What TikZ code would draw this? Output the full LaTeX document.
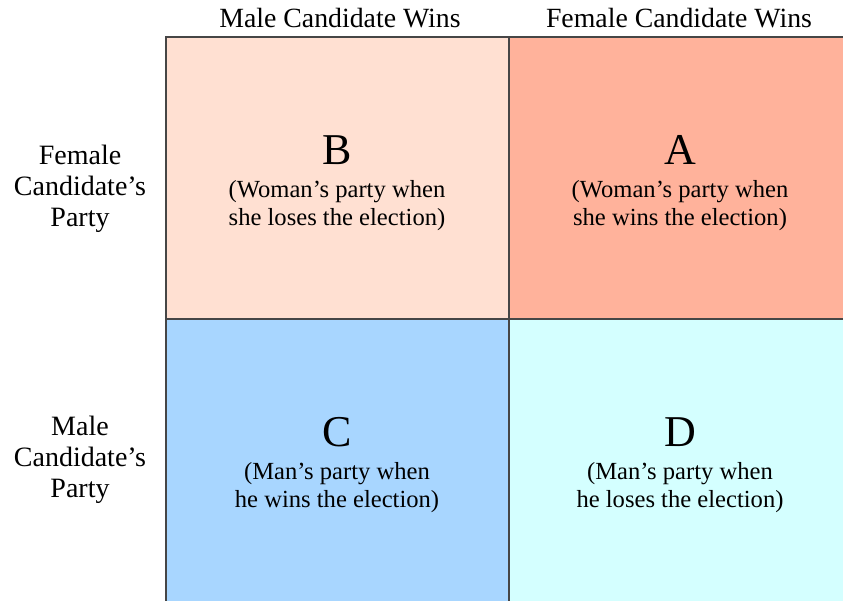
\documentclass[tikz,border=0pt]{standalone}
\usepackage{fontspec}
\setmainfont{Liberation Serif}
\definecolor{cellB}{RGB}{255,224,210}
\definecolor{cellA}{RGB}{255,178,155}
\definecolor{cellC}{RGB}{168,214,255}
\definecolor{cellD}{RGB}{212,255,255}
\definecolor{gridline}{RGB}{70,70,70}
\tikzset{
  cell/.style={draw=gridline, line width=2pt},
  head/.style={font=\fontsize{27.8}{30}\selectfont, inner sep=0pt},
  side/.style={font=\fontsize{28}{31}\selectfont, align=center, inner sep=0pt},
  letter/.style={font=\fontsize{44}{48}\selectfont, inner sep=0pt},
  sub/.style={font=\fontsize{24.6}{28}\selectfont, align=center, inner sep=0pt}
}
\begin{document}
\begin{tikzpicture}[x=1pt,y=-1pt]
\useasboundingbox (0,0) rectangle (843,600);
\clip (0,0) rectangle (843,600);
\fill[white] (0,0) rectangle (843,600);
\filldraw[cell, fill=cellB] (166,36.5) rectangle (508.5,318.5);
\filldraw[cell, fill=cellA] (508.5,36.5) rectangle (870,318.5);
\filldraw[cell, fill=cellC] (166,318.5) rectangle (508.5,630);
\filldraw[cell, fill=cellD] (508.5,318.5) rectangle (870,630);
\node[head] (h1) at (340,18) {Male Candidate Wins};
\node[head] (h2) at (679,18) {Female Candidate Wins};
\node[side] (s1) at (80,189) {Female\\Candidate’s\\Party};
\node[side] (s2) at (80,460) {Male\\Candidate’s\\Party};
\node[letter] (lB) at (337,150) {B};
\node[sub] (tB) at (337,206) {(Woman’s party when\\she loses the election)};
\node[letter] (lA) at (680,150) {A};
\node[sub] (tA) at (680,206) {(Woman’s party when\\she wins the election)};
\node[letter] (lC) at (337,432) {C};
\node[sub] (tC) at (337,488) {(Man’s party when\\he wins the election)};
\node[letter] (lD) at (680,432) {D};
\node[sub] (tD) at (680,488) {(Man’s party when\\he loses the election)};
\end{tikzpicture}
\end{document}
